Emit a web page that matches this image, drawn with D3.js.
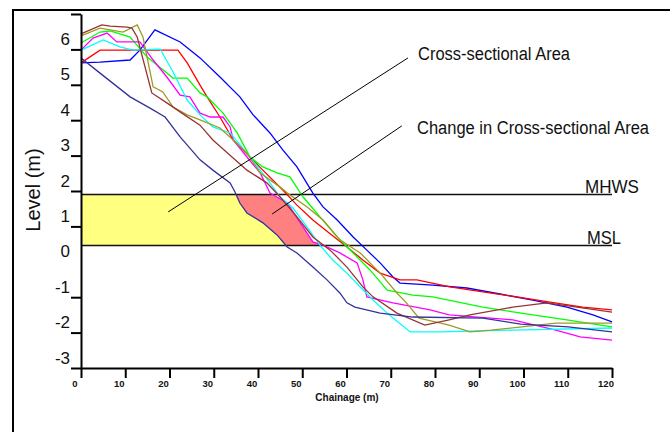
<!DOCTYPE html>
<html>
<head>
<meta charset="utf-8">
<script src="https://cdn.jsdelivr.net/npm/d3@7"></script>
<style>
  html, body { margin: 0; padding: 0; background: #fff; }
  svg { display: block; font-family: 'Liberation Sans', Arial, sans-serif; }
</style>
</head>
<body>
<div id="chart"></div>
<script>
// tick labels
const chainageTicks = [0, 10, 20, 30, 40, 50, 60, 70, 80, 90, 100, 110, 120];
const levelTicks = [-3, -2, -1, 1, 2, 3, 4, 5, 6, 7];
const levelLabels = [-3, -2, -1, 0, 1, 2, 3, 4, 5, 6];

// tide levels (m)
const mhws = 1.9;
const msl = 0.46;

// beach profiles: chainage (m) / level (m)
const navyX = [0, 4.3, 11.1, 15.6, 19.0, 22.4, 26.9, 29.8, 33.7, 34.8, 35.9, 37.5, 41.1, 44.3, 46.6, 48.8, 52.4, 55.6, 58.5, 60.1, 61.9, 67.6, 75.0, 90.8, 99.4, 110.1, 120];
const navyY = [5.76, 5.33, 4.66, 4.34, 4.09, 3.53, 2.88, 2.59, 2.23, 1.97, 1.66, 1.38, 1.10, 0.76, 0.42, 0.25, -0.15, -0.51, -0.88, -1.16, -1.28, -1.45, -1.56, -1.59, -1.76, -1.84, -1.98];

const blueX = [0, 4.3, 11.1, 13.3, 16.7, 22.4, 26.9, 31.4, 35.9, 38.9, 42.7, 45.6, 48.8, 52.4, 54.7, 57.9, 61.5, 64.6, 67.6, 70.5, 72.1, 79.5, 87.2, 94.7, 102.1, 109.8, 115.7, 120];
const blueY = [5.62, 5.64, 5.70, 5.98, 6.55, 6.21, 5.76, 5.22, 4.66, 4.15, 3.64, 3.16, 2.68, 1.94, 1.55, 1.18, 0.70, 0.33, -0.03, -0.43, -0.60, -0.66, -0.74, -0.91, -1.08, -1.28, -1.50, -1.70];

const redX = [0, 4.3, 21.9, 24.0, 26.9, 28.5, 31.4, 34.4, 38.2, 41.1, 45.6, 48.8, 52.4, 56.3, 60.1, 63.7, 67.6, 72.1, 75.9, 83.4, 90.8, 98.5, 106.0, 113.4, 120];
const redY = [5.62, 5.98, 5.98, 5.62, 4.99, 4.66, 4.09, 3.44, 2.96, 2.59, 2.03, 1.60, 1.18, 0.79, 0.42, 0.05, -0.32, -0.51, -0.51, -0.71, -0.85, -0.99, -1.14, -1.28, -1.36];

const greenX = [0, 4.3, 6.6, 11.1, 14.9, 20.8, 24.0, 26.9, 28.5, 32.1, 35.3, 38.2, 41.1, 44.3, 47.2, 50.2, 54.0, 57.9, 61.5, 65.3, 69.2, 75.0, 79.5, 90.8, 102.1, 109.8, 120];
const greenY = [6.18, 6.49, 6.52, 6.35, 5.79, 5.19, 5.19, 4.77, 4.66, 4.20, 3.64, 2.96, 2.68, 2.51, 2.40, 1.83, 1.27, 0.70, 0.25, -0.23, -0.80, -0.94, -0.99, -1.28, -1.50, -1.64, -1.84];

const magentaX = [0, 2.7, 5.9, 8.1, 13.3, 16.3, 19.4, 22.4, 24.6, 26.9, 29.2, 32.1, 33.7, 34.4, 37.5, 40.5, 42.7, 46.6, 50.2, 52.4, 54.7, 58.5, 62.4, 63.7, 64.6, 70.5, 78.9, 83.2, 97.6, 107.3, 112.8, 120];
const magentaY = [5.98, 6.32, 6.46, 6.21, 6.21, 5.70, 5.22, 4.71, 4.66, 4.20, 4.09, 4.09, 3.81, 3.44, 2.96, 2.51, 1.94, 1.66, 0.98, 0.56, 0.47, 0.25, -0.03, -0.51, -0.99, -1.16, -1.36, -1.50, -1.64, -1.93, -2.12, -2.21];

const cyanX = [0, 5.0, 8.8, 11.8, 17.9, 20.8, 24.0, 26.9, 29.8, 33.7, 37.5, 40.5, 42.7, 45.0, 47.9, 51.1, 54.0, 56.9, 60.1, 63.1, 66.0, 69.2, 71.0, 74.4, 81.1, 97.6, 120];
const cyanY = [5.98, 6.27, 6.07, 5.98, 6.01, 5.36, 4.57, 4.15, 3.81, 3.64, 3.07, 2.59, 2.23, 1.83, 1.52, 0.98, 0.47, 0.05, -0.32, -0.71, -1.08, -1.45, -1.64, -1.98, -1.98, -1.93, -1.87];

const oliveX = [0, 4.3, 9.5, 12.7, 14.0, 16.3, 18.5, 20.8, 24.0, 26.9, 31.4, 34.4, 37.5, 40.5, 45.0, 47.2, 51.1, 54.7, 58.5, 63.1, 67.6, 71.4, 73.4, 76.4, 83.2, 87.9, 92.7, 107.3, 120];
const oliveY = [6.38, 6.60, 6.49, 6.69, 6.35, 4.94, 4.80, 4.37, 4.15, 4.01, 3.78, 3.44, 3.07, 2.51, 2.11, 1.89, 1.55, 1.18, 0.62, 0.25, -0.32, -0.88, -1.14, -1.59, -1.79, -1.98, -1.93, -1.73, -1.73];

const brownX = [0, 4.7, 6.6, 10.4, 11.5, 12.7, 16.0, 19.4, 22.8, 26.9, 29.8, 37.5, 42.0, 45.0, 48.8, 52.4, 56.3, 60.1, 63.7, 66.0, 71.4, 77.7, 83.2, 87.9, 97.6, 105.3, 120];
const brownY = [6.44, 6.69, 6.66, 6.63, 6.60, 6.35, 4.77, 4.49, 4.20, 3.86, 3.44, 2.59, 2.23, 1.83, 1.27, 0.70, 0.33, -0.15, -0.71, -0.99, -1.45, -1.79, -1.64, -1.50, -1.28, -1.16, -1.42];

const profiles = [
  { name: 'navy', color: '#333399', xs: navyX, ys: navyY },
  { name: 'brown', color: '#993333', xs: brownX, ys: brownY },
  { name: 'olive', color: '#9c9c24', xs: oliveX, ys: oliveY },
  { name: 'cyan', color: '#00ffff', xs: cyanX, ys: cyanY },
  { name: 'magenta', color: '#ff00ff', xs: magentaX, ys: magentaY },
  { name: 'green', color: '#00ff00', xs: greenX, ys: greenY },
  { name: 'red', color: '#ff0000', xs: redX, ys: redY },
  { name: 'blue', color: '#0000ff', xs: blueX, ys: blueY },
];

// annotation leaders: [chainage, level] pairs
const leaderArea = [[19.7, 1.41], [73.9, 5.76]];
const leaderChange = [[43.2, 1.35], [72.5, 3.84]];

const width = 670;
const height = 432;

const svg = d3.select('#chart')
  .append('svg')
  .attr('width', width)
  .attr('height', height);

// Scales
const x = d3.scaleLinear().domain([0, 120]).range([81, 612]);
const y = d3.scaleLinear().domain([-3, 7]).range([368, 14]);

const pts = (p) => p.xs.map((v, i) => [v, p.ys[i]]);
const line = d3.line().x((d) => x(d[0])).y((d) => y(d[1]));

// outer frame (left + top)
svg.append('path')
  .attr('d', `M13,${height}V10H${width}`)
  .attr('fill', 'none')
  .attr('stroke', '#000')
  .attr('stroke-width', 2);

// band between MSL and MHWS
svg.append('clipPath')
  .attr('id', 'band')
  .append('rect')
  .attr('x', x(0))
  .attr('y', y(mhws))
  .attr('width', x(120) - x(0))
  .attr('height', y(msl) - y(mhws));

const navy = pts(profiles[0]);
const magenta = pts(profiles.find((p) => p.name === 'magenta'));

const fills = svg.append('g').attr('clip-path', 'url(#band)');

fills.append('path')
  .attr('d', line([...navy, [0, -3]]) + 'Z')
  .attr('fill', '#ffff80');

fills.append('path')
  .attr('d', line([...navy, ...magenta.slice().reverse()]) + 'Z')
  .attr('fill', '#ff8080');

// tide lines
[mhws, msl].forEach((lv) => {
  svg.append('line')
    .attr('x1', x(0))
    .attr('x2', x(120))
    .attr('y1', y(lv))
    .attr('y2', y(lv))
    .attr('stroke', '#111')
    .attr('stroke-width', 1.6);
});

// profiles
svg.append('g')
  .selectAll('path')
  .data(profiles.slice().reverse())
  .enter()
  .append('path')
  .attr('d', (p) => line(pts(p)))
  .attr('fill', 'none')
  .attr('stroke', (p) => p.color)
  .attr('stroke-width', 1.3);

// Axes
const yAxis = svg.append('g')
  .attr('transform', `translate(${x(0)},0)`)
  .call(d3.axisLeft(y).tickValues(levelTicks).tickSize(10).tickSizeOuter(0).tickFormat(''));

const xAxis = svg.append('g')
  .attr('transform', `translate(0,${y(-3)})`)
  .call(d3.axisBottom(x).tickValues(chainageTicks).tickSize(10).tickSizeOuter(0).tickFormat(''));

svg.selectAll('.domain, .tick line').attr('stroke', '#000').attr('stroke-width', 2);

// y tick labels sit above their ticks
svg.append('g')
  .selectAll('text')
  .data(levelLabels)
  .enter()
  .append('text')
  .attr('x', x(0) - 11)
  .attr('y', (d) => y(d) - 10.5)
  .attr('dy', '0.36em')
  .attr('text-anchor', 'end')
  .attr('font-size', 17)
  .attr('fill', '#111')
  .text((d) => d);

svg.append('g')
  .selectAll('text')
  .data(chainageTicks)
  .enter()
  .append('text')
  .attr('x', (d) => x(d) - 6)
  .attr('y', y(-3) + 19)
  .attr('text-anchor', 'middle')
  .attr('font-size', 9.5)
  .attr('font-weight', 'bold')
  .attr('fill', '#111')
  .text((d) => d);

svg.append('text')
  .attr('x', 347)
  .attr('y', 401)
  .attr('text-anchor', 'middle')
  .attr('font-size', 10)
  .attr('font-weight', 'bold')
  .attr('fill', '#111')
  .text('Chainage (m)');

svg.append('text')
  .attr('transform', 'translate(33,190) rotate(-90)')
  .attr('text-anchor', 'middle')
  .attr('dy', '0.35em')
  .attr('font-size', 20)
  .attr('fill', '#111')
  .text('Level (m)');

// leaders
[leaderArea, leaderChange].forEach((seg) => {
  svg.append('path')
    .attr('d', line(seg))
    .attr('stroke', '#000')
    .attr('stroke-width', 1);
});

const label = (txt, xx, yy, len) => svg.append('text')
  .attr('x', xx)
  .attr('y', yy)
  .attr('font-size', 18)
  .attr('fill', '#111')
  .attr('textLength', len)
  .attr('lengthAdjust', 'spacingAndGlyphs')
  .text(txt);

label('Cross-sectional Area', 418, 59.5, 152);
label('Change in Cross-sectional Area', 417, 133.5, 232);
label('MHWS', 585, y(mhws) - 2, 54);
label('MSL', 587, y(msl) - 1.5, 34);
</script>
</body>
</html>
